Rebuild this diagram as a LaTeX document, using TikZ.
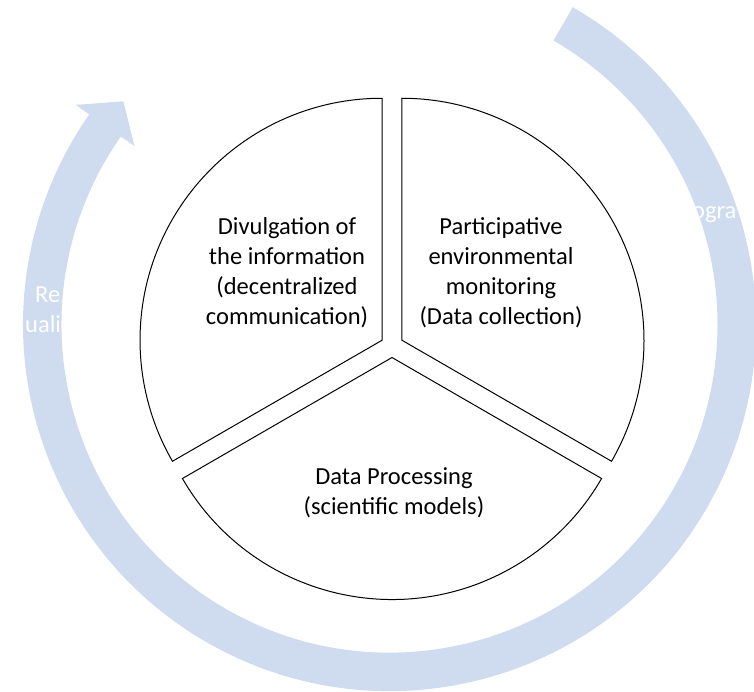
\documentclass[tikz,border=0pt]{standalone}
\usepackage{fontspec}
\setmainfont{Carlito}
\definecolor{bandblue}{RGB}{207,219,238}
\begin{document}
\begin{tikzpicture}[x=1pt,y=1pt,
  sector/.style={draw=black,line width=1pt,fill=white,line join=miter},
  lbl/.style={align=center,font=\fontsize{24.5}{30}\selectfont,text=black,inner sep=0pt},
  ghost/.style={font=\fontsize{24.5}{30}\selectfont,text=white,inner sep=0pt,anchor=base west}]
\useasboundingbox (0,0) rectangle (754,-691);
\clip (0,0) rectangle (754,-691);
% circular arrow
\coordinate (C) at (389.5,-324.6);
\fill[bandblue,shift={(C)}] (60:328) -- (60:366.5)
  arc[start angle=60,end angle=-215,radius=366.5]
  -- (-215:383) -- (-220:347.4) -- (-215:311.4) -- (-215:328)
  arc[start angle=-215,end angle=60,radius=328] -- cycle;
% white text fragments on the arrow
\node[ghost] (g1) at (35,-302) {Re};
\node[ghost] (g2) at (25,-332) {uali};
\node[ghost] (g3) at (692,-218) {ogra};
% sectors
\coordinate (O) at (392,-346);
\path (O) ++(150:11.5) coordinate (vl);
\path (O) ++(30:11.5) coordinate (vr);
\path (O) ++(270:11.5) coordinate (vb);
\draw[sector] (vl) -- ++(90:242) arc[start angle=90,end angle=210,radius=242] -- cycle;
\draw[sector] (vr) -- ++(-30:242) arc[start angle=-30,end angle=90,radius=242] -- cycle;
\draw[sector] (vb) -- ++(210:242) arc[start angle=210,end angle=330,radius=242] -- cycle;
% labels
\node[lbl] (tl) at (287,-273) {Divulgation of\\the information\\(decentralized\\communication)};
\node[lbl] (tr) at (501,-273) {Participative\\environmental\\monitoring\\(Data collection)};
\node[lbl] (tb) at (394,-493) {Data Processing\\(scientific models)};
\end{tikzpicture}
\end{document}
